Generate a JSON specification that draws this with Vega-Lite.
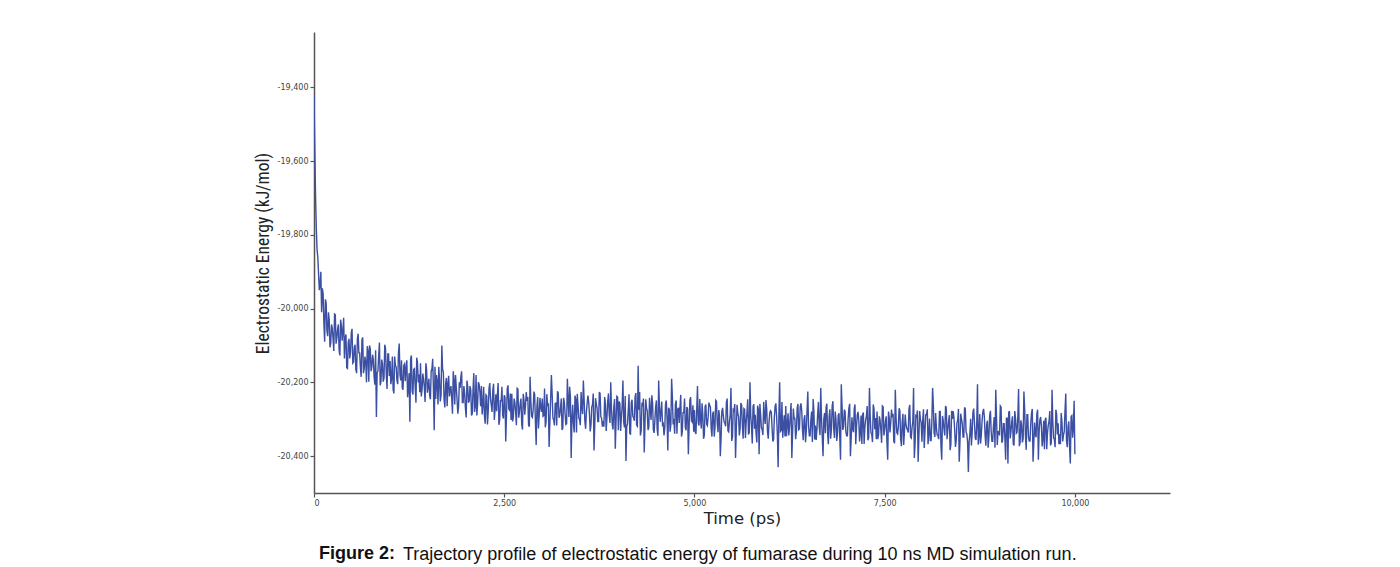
{
"$schema": "https://vega.github.io/schema/vega-lite/v6.json",
"width": 856, "height": 461,
"autosize": {"type": "none"},
"padding": {"left": 314, "top": 32, "right": 230, "bottom": 74},
"background": "white",
"config": {"view": {"stroke": null}, "locale": {"number": {"decimal": ".", "thousands": ",", "grouping": [3], "currency": ["$", ""], "minus": "-"}}},
"title": {
  "text": "Figure 2:",
  "subtitle": "Trajectory profile of electrostatic energy of fumarase during 10 ns MD simulation run.",
  "orient": "bottom", "anchor": "start", "frame": "group", "dx": 89, "offset": 18,
  "font": "Liberation Sans", "fontSize": 18, "fontWeight": "bold", "color": "#111",
  "subtitleFont": "Liberation Sans", "subtitleFontSize": 18, "subtitleFontWeight": "normal", "subtitleColor": "#111",
  "subtitlePadding": -17,
  "encoding": {"dx": {"value": 5}}
},
"data": {"values": [
{"t":0,"e":-19420},{"t":20,"e":-19690},{"t":40,"e":-19840},{"t":60,"e":-19905},{"t":80,"e":-19935},{"t":100,"e":-20010},{"t":120,"e":-19960},{"t":140,"e":-20090},{"t":160,"e":-19985},{"t":180,"e":-20075},
{"t":200,"e":-20030},{"t":220,"e":-20093},{"t":240,"e":-20053},{"t":260,"e":-20115},{"t":280,"e":-20017},{"t":300,"e":-20080},{"t":320,"e":-20043},{"t":340,"e":-20127},{"t":360,"e":-20047},{"t":380,"e":-20060},
{"t":400,"e":-20135},{"t":420,"e":-20070},{"t":440,"e":-20162},{"t":460,"e":-20082},{"t":480,"e":-20118},{"t":500,"e":-20055},{"t":520,"e":-20145},{"t":540,"e":-20098},{"t":560,"e":-20175},{"t":580,"e":-20068},
{"t":600,"e":-20120},{"t":620,"e":-20185},{"t":640,"e":-20078},{"t":660,"e":-20162},{"t":680,"e":-20145},{"t":700,"e":-20102},{"t":720,"e":-20198},{"t":740,"e":-20110},{"t":760,"e":-20158},{"t":780,"e":-20138},
{"t":800,"e":-20206},{"t":820,"e":-20294},{"t":840,"e":-20170},{"t":860,"e":-20092},{"t":880,"e":-20198},{"t":900,"e":-20150},{"t":920,"e":-20188},{"t":940,"e":-20108},{"t":960,"e":-20218},{"t":980,"e":-20123},
{"t":1000,"e":-20142},{"t":1020,"e":-20188},{"t":1040,"e":-20220},{"t":1060,"e":-20130},{"t":1080,"e":-20158},{"t":1100,"e":-20205},{"t":1120,"e":-20095},{"t":1140,"e":-20195},{"t":1160,"e":-20215},{"t":1180,"e":-20154},
{"t":1200,"e":-20197},{"t":1220,"e":-20140},{"t":1240,"e":-20217},{"t":1260,"e":-20307},{"t":1280,"e":-20127},{"t":1300,"e":-20233},{"t":1320,"e":-20163},{"t":1340,"e":-20255},{"t":1360,"e":-20147},{"t":1380,"e":-20179},
{"t":1400,"e":-20148},{"t":1420,"e":-20220},{"t":1440,"e":-20192},{"t":1460,"e":-20253},{"t":1480,"e":-20166},{"t":1500,"e":-20210},{"t":1520,"e":-20236},{"t":1540,"e":-20170},{"t":1560,"e":-20136},{"t":1580,"e":-20330},
{"t":1600,"e":-20245},{"t":1620,"e":-20198},{"t":1640,"e":-20158},{"t":1660,"e":-20252},{"t":1680,"e":-20100},{"t":1700,"e":-20172},{"t":1720,"e":-20268},{"t":1740,"e":-20188},{"t":1760,"e":-20204},{"t":1780,"e":-20238},
{"t":1800,"e":-20210},{"t":1820,"e":-20285},{"t":1840,"e":-20195},{"t":1860,"e":-20180},{"t":1880,"e":-20245},{"t":1900,"e":-20265},{"t":1920,"e":-20215},{"t":1940,"e":-20170},{"t":1960,"e":-20255},{"t":1980,"e":-20230},
{"t":2000,"e":-20295},{"t":2020,"e":-20210},{"t":2040,"e":-20250},{"t":2060,"e":-20220},{"t":2080,"e":-20285},{"t":2100,"e":-20175},{"t":2120,"e":-20265},{"t":2140,"e":-20290},{"t":2160,"e":-20200},{"t":2180,"e":-20225},
{"t":2200,"e":-20210},{"t":2220,"e":-20260},{"t":2240,"e":-20290},{"t":2260,"e":-20234},{"t":2280,"e":-20314},{"t":2300,"e":-20217},{"t":2320,"e":-20244},{"t":2340,"e":-20280},{"t":2360,"e":-20204},{"t":2380,"e":-20272},
{"t":2400,"e":-20278},{"t":2420,"e":-20202},{"t":2440,"e":-20302},{"t":2460,"e":-20250},{"t":2480,"e":-20290},{"t":2500,"e":-20235},{"t":2520,"e":-20360},{"t":2540,"e":-20216},{"t":2560,"e":-20272},{"t":2580,"e":-20230},
{"t":2600,"e":-20231},{"t":2620,"e":-20294},{"t":2640,"e":-20254},{"t":2660,"e":-20316},{"t":2680,"e":-20218},{"t":2700,"e":-20281},{"t":2720,"e":-20244},{"t":2740,"e":-20328},{"t":2760,"e":-20248},{"t":2780,"e":-20261},
{"t":2800,"e":-20250},{"t":2820,"e":-20315},{"t":2840,"e":-20185},{"t":2860,"e":-20292},{"t":2880,"e":-20275},{"t":2900,"e":-20232},{"t":2920,"e":-20370},{"t":2940,"e":-20240},{"t":2960,"e":-20288},{"t":2980,"e":-20268},
{"t":3000,"e":-20244},{"t":3020,"e":-20290},{"t":3040,"e":-20322},{"t":3060,"e":-20232},{"t":3080,"e":-20260},{"t":3100,"e":-20307},{"t":3120,"e":-20180},{"t":3140,"e":-20297},{"t":3160,"e":-20317},{"t":3180,"e":-20256},
{"t":3200,"e":-20224},{"t":3220,"e":-20296},{"t":3240,"e":-20268},{"t":3260,"e":-20329},{"t":3280,"e":-20242},{"t":3300,"e":-20286},{"t":3320,"e":-20312},{"t":3340,"e":-20246},{"t":3360,"e":-20212},{"t":3380,"e":-20405},
{"t":3400,"e":-20261},{"t":3420,"e":-20336},{"t":3440,"e":-20246},{"t":3460,"e":-20231},{"t":3480,"e":-20296},{"t":3500,"e":-20316},{"t":3520,"e":-20266},{"t":3540,"e":-20195},{"t":3560,"e":-20306},{"t":3580,"e":-20281},
{"t":3600,"e":-20236},{"t":3620,"e":-20286},{"t":3640,"e":-20316},{"t":3660,"e":-20260},{"t":3680,"e":-20385},{"t":3700,"e":-20243},{"t":3720,"e":-20270},{"t":3740,"e":-20306},{"t":3760,"e":-20230},{"t":3780,"e":-20298},
{"t":3800,"e":-20305},{"t":3820,"e":-20240},{"t":3840,"e":-20332},{"t":3860,"e":-20252},{"t":3880,"e":-20288},{"t":3900,"e":-20200},{"t":3920,"e":-20315},{"t":3940,"e":-20268},{"t":3960,"e":-20380},{"t":3980,"e":-20238},
{"t":4000,"e":-20330},{"t":4020,"e":-20257},{"t":4040,"e":-20294},{"t":4060,"e":-20195},{"t":4080,"e":-20322},{"t":4100,"e":-20413},{"t":4120,"e":-20312},{"t":4140,"e":-20232},{"t":4160,"e":-20342},{"t":4180,"e":-20247},
{"t":4200,"e":-20296},{"t":4220,"e":-20239},{"t":4240,"e":-20316},{"t":4260,"e":-20155},{"t":4280,"e":-20226},{"t":4300,"e":-20332},{"t":4320,"e":-20262},{"t":4340,"e":-20390},{"t":4360,"e":-20246},{"t":4380,"e":-20278},
{"t":4400,"e":-20322},{"t":4420,"e":-20275},{"t":4440,"e":-20235},{"t":4460,"e":-20329},{"t":4480,"e":-20303},{"t":4500,"e":-20249},{"t":4520,"e":-20345},{"t":4540,"e":-20265},{"t":4560,"e":-20281},{"t":4580,"e":-20315},
{"t":4600,"e":-20344},{"t":4620,"e":-20259},{"t":4640,"e":-20299},{"t":4660,"e":-20269},{"t":4680,"e":-20334},{"t":4700,"e":-20190},{"t":4720,"e":-20314},{"t":4740,"e":-20339},{"t":4760,"e":-20249},{"t":4780,"e":-20274},
{"t":4800,"e":-20310},{"t":4820,"e":-20234},{"t":4840,"e":-20334},{"t":4860,"e":-20282},{"t":4880,"e":-20322},{"t":4900,"e":-20267},{"t":4920,"e":-20395},{"t":4940,"e":-20248},{"t":4960,"e":-20304},{"t":4980,"e":-20262},
{"t":5000,"e":-20275},{"t":5020,"e":-20340},{"t":5040,"e":-20210},{"t":5060,"e":-20317},{"t":5080,"e":-20300},{"t":5100,"e":-20257},{"t":5120,"e":-20353},{"t":5140,"e":-20265},{"t":5160,"e":-20313},{"t":5180,"e":-20293},
{"t":5200,"e":-20262},{"t":5220,"e":-20325},{"t":5240,"e":-20285},{"t":5260,"e":-20347},{"t":5280,"e":-20249},{"t":5300,"e":-20312},{"t":5320,"e":-20275},{"t":5340,"e":-20400},{"t":5360,"e":-20279},{"t":5380,"e":-20292},
{"t":5400,"e":-20311},{"t":5420,"e":-20254},{"t":5440,"e":-20331},{"t":5460,"e":-20305},{"t":5480,"e":-20215},{"t":5500,"e":-20347},{"t":5520,"e":-20277},{"t":5540,"e":-20405},{"t":5560,"e":-20261},{"t":5580,"e":-20293},
{"t":5600,"e":-20326},{"t":5620,"e":-20261},{"t":5640,"e":-20353},{"t":5660,"e":-20273},{"t":5680,"e":-20309},{"t":5700,"e":-20246},{"t":5720,"e":-20336},{"t":5740,"e":-20289},{"t":5760,"e":-20366},{"t":5780,"e":-20259},
{"t":5800,"e":-20288},{"t":5820,"e":-20363},{"t":5840,"e":-20273},{"t":5860,"e":-20258},{"t":5880,"e":-20323},{"t":5900,"e":-20343},{"t":5920,"e":-20293},{"t":5940,"e":-20248},{"t":5960,"e":-20333},{"t":5980,"e":-20308},
{"t":6000,"e":-20277},{"t":6020,"e":-20323},{"t":6040,"e":-20355},{"t":6060,"e":-20265},{"t":6080,"e":-20293},{"t":6100,"e":-20430},{"t":6120,"e":-20200},{"t":6140,"e":-20330},{"t":6160,"e":-20350},{"t":6180,"e":-20289},
{"t":6200,"e":-20264},{"t":6220,"e":-20314},{"t":6240,"e":-20344},{"t":6260,"e":-20288},{"t":6280,"e":-20405},{"t":6300,"e":-20271},{"t":6320,"e":-20298},{"t":6340,"e":-20334},{"t":6360,"e":-20258},{"t":6380,"e":-20326},
{"t":6400,"e":-20257},{"t":6420,"e":-20329},{"t":6440,"e":-20301},{"t":6460,"e":-20362},{"t":6480,"e":-20275},{"t":6500,"e":-20319},{"t":6520,"e":-20345},{"t":6540,"e":-20279},{"t":6560,"e":-20245},{"t":6580,"e":-20355},
{"t":6600,"e":-20356},{"t":6620,"e":-20283},{"t":6640,"e":-20320},{"t":6660,"e":-20215},{"t":6680,"e":-20348},{"t":6700,"e":-20300},{"t":6720,"e":-20338},{"t":6740,"e":-20258},{"t":6760,"e":-20368},{"t":6780,"e":-20273},
{"t":6800,"e":-20327},{"t":6820,"e":-20251},{"t":6840,"e":-20351},{"t":6860,"e":-20299},{"t":6880,"e":-20339},{"t":6900,"e":-20284},{"t":6920,"e":-20410},{"t":6940,"e":-20265},{"t":6960,"e":-20321},{"t":6980,"e":-20279},
{"t":7000,"e":-20345},{"t":7020,"e":-20298},{"t":7040,"e":-20258},{"t":7060,"e":-20352},{"t":7080,"e":-20326},{"t":7100,"e":-20272},{"t":7120,"e":-20368},{"t":7140,"e":-20288},{"t":7160,"e":-20304},{"t":7180,"e":-20338},
{"t":7200,"e":-20367},{"t":7220,"e":-20282},{"t":7240,"e":-20322},{"t":7260,"e":-20292},{"t":7280,"e":-20357},{"t":7300,"e":-20215},{"t":7320,"e":-20337},{"t":7340,"e":-20362},{"t":7360,"e":-20272},{"t":7380,"e":-20297},
{"t":7400,"e":-20279},{"t":7420,"e":-20342},{"t":7440,"e":-20302},{"t":7460,"e":-20364},{"t":7480,"e":-20266},{"t":7500,"e":-20329},{"t":7520,"e":-20292},{"t":7540,"e":-20410},{"t":7560,"e":-20296},{"t":7580,"e":-20309},
{"t":7600,"e":-20295},{"t":7620,"e":-20360},{"t":7640,"e":-20220},{"t":7660,"e":-20337},{"t":7680,"e":-20320},{"t":7700,"e":-20277},{"t":7720,"e":-20373},{"t":7740,"e":-20285},{"t":7760,"e":-20333},{"t":7780,"e":-20313},
{"t":7800,"e":-20328},{"t":7820,"e":-20271},{"t":7840,"e":-20348},{"t":7860,"e":-20322},{"t":7880,"e":-20215},{"t":7900,"e":-20364},{"t":7920,"e":-20294},{"t":7940,"e":-20415},{"t":7960,"e":-20278},{"t":7980,"e":-20310},
{"t":8000,"e":-20303},{"t":8020,"e":-20378},{"t":8040,"e":-20288},{"t":8060,"e":-20273},{"t":8080,"e":-20338},{"t":8100,"e":-20358},{"t":8120,"e":-20308},{"t":8140,"e":-20263},{"t":8160,"e":-20348},{"t":8180,"e":-20323},
{"t":8200,"e":-20344},{"t":8220,"e":-20279},{"t":8240,"e":-20371},{"t":8260,"e":-20291},{"t":8280,"e":-20327},{"t":8300,"e":-20264},{"t":8320,"e":-20354},{"t":8340,"e":-20307},{"t":8360,"e":-20384},{"t":8380,"e":-20277},
{"t":8400,"e":-20278},{"t":8420,"e":-20328},{"t":8440,"e":-20358},{"t":8460,"e":-20302},{"t":8480,"e":-20415},{"t":8500,"e":-20285},{"t":8520,"e":-20312},{"t":8540,"e":-20348},{"t":8560,"e":-20272},{"t":8580,"e":-20340},
{"t":8600,"e":-20443},{"t":8620,"e":-20339},{"t":8640,"e":-20371},{"t":8660,"e":-20281},{"t":8680,"e":-20309},{"t":8700,"e":-20356},{"t":8720,"e":-20205},{"t":8740,"e":-20346},{"t":8760,"e":-20366},{"t":8780,"e":-20305},
{"t":8800,"e":-20272},{"t":8820,"e":-20344},{"t":8840,"e":-20316},{"t":8860,"e":-20377},{"t":8880,"e":-20290},{"t":8900,"e":-20334},{"t":8920,"e":-20360},{"t":8940,"e":-20294},{"t":8960,"e":-20220},{"t":8980,"e":-20370},
{"t":9000,"e":-20340},{"t":9020,"e":-20264},{"t":9040,"e":-20364},{"t":9060,"e":-20312},{"t":9080,"e":-20352},{"t":9100,"e":-20297},{"t":9120,"e":-20420},{"t":9140,"e":-20278},{"t":9160,"e":-20334},{"t":9180,"e":-20292},
{"t":9200,"e":-20371},{"t":9220,"e":-20298},{"t":9240,"e":-20335},{"t":9260,"e":-20218},{"t":9280,"e":-20363},{"t":9300,"e":-20315},{"t":9320,"e":-20353},{"t":9340,"e":-20273},{"t":9360,"e":-20383},{"t":9380,"e":-20288},
{"t":9400,"e":-20359},{"t":9420,"e":-20312},{"t":9440,"e":-20272},{"t":9460,"e":-20366},{"t":9480,"e":-20340},{"t":9500,"e":-20286},{"t":9520,"e":-20410},{"t":9540,"e":-20302},{"t":9560,"e":-20318},{"t":9580,"e":-20352},
{"t":9600,"e":-20381},{"t":9620,"e":-20296},{"t":9640,"e":-20336},{"t":9660,"e":-20306},{"t":9680,"e":-20371},{"t":9700,"e":-20220},{"t":9720,"e":-20351},{"t":9740,"e":-20376},{"t":9760,"e":-20286},{"t":9780,"e":-20311},
{"t":9800,"e":-20340},{"t":9820,"e":-20283},{"t":9840,"e":-20360},{"t":9860,"e":-20334},{"t":9880,"e":-20230},{"t":9900,"e":-20376},{"t":9920,"e":-20306},{"t":9940,"e":-20420},{"t":9960,"e":-20290},{"t":9980,"e":-20322},
{"t":10000,"e":-20395},
{"t":10,"e":-19560},{"t":30,"e":-19780},{"t":50,"e":-19860},{"t":70,"e":-19950},{"t":90,"e":-19900},{"t":110,"e":-19945},{"t":130,"e":-20040},{"t":150,"e":-19975},{"t":170,"e":-20060},{"t":190,"e":-20010},
{"t":210,"e":-20105},{"t":230,"e":-20043},{"t":250,"e":-20080},{"t":270,"e":-20015},{"t":290,"e":-20095},{"t":310,"e":-20057},{"t":330,"e":-20113},{"t":350,"e":-20030},{"t":370,"e":-20087},{"t":390,"e":-20025},
{"t":410,"e":-20080},{"t":430,"e":-20160},{"t":450,"e":-20092},{"t":470,"e":-20135},{"t":490,"e":-20065},{"t":510,"e":-20148},{"t":530,"e":-20105},{"t":550,"e":-20165},{"t":570,"e":-20082},{"t":590,"e":-20120},
{"t":610,"e":-20160},{"t":630,"e":-20085},{"t":650,"e":-20175},{"t":670,"e":-20130},{"t":690,"e":-20200},{"t":710,"e":-20115},{"t":730,"e":-20100},{"t":750,"e":-20170},{"t":770,"e":-20125},{"t":790,"e":-20185},
{"t":810,"e":-20113},{"t":830,"e":-20173},{"t":850,"e":-20128},{"t":870,"e":-20208},{"t":890,"e":-20138},{"t":910,"e":-20198},{"t":930,"e":-20098},{"t":950,"e":-20178},{"t":970,"e":-20123},{"t":990,"e":-20183},
{"t":1010,"e":-20205},{"t":1030,"e":-20130},{"t":1050,"e":-20230},{"t":1070,"e":-20155},{"t":1090,"e":-20195},{"t":1110,"e":-20120},{"t":1130,"e":-20180},{"t":1150,"e":-20140},{"t":1170,"e":-20220},{"t":1190,"e":-20150},
{"t":1210,"e":-20160},{"t":1230,"e":-20240},{"t":1250,"e":-20175},{"t":1270,"e":-20137},{"t":1290,"e":-20223},{"t":1310,"e":-20165},{"t":1330,"e":-20213},{"t":1350,"e":-20133},{"t":1370,"e":-20200},{"t":1390,"e":-20227},
{"t":1410,"e":-20238},{"t":1430,"e":-20176},{"t":1450,"e":-20213},{"t":1470,"e":-20148},{"t":1490,"e":-20228},{"t":1510,"e":-20190},{"t":1530,"e":-20246},{"t":1550,"e":-20163},{"t":1570,"e":-20220},{"t":1590,"e":-20158},
{"t":1610,"e":-20180},{"t":1630,"e":-20260},{"t":1650,"e":-20192},{"t":1670,"e":-20235},{"t":1690,"e":-20165},{"t":1710,"e":-20248},{"t":1730,"e":-20205},{"t":1750,"e":-20265},{"t":1770,"e":-20182},{"t":1790,"e":-20220},
{"t":1810,"e":-20245},{"t":1830,"e":-20170},{"t":1850,"e":-20260},{"t":1870,"e":-20215},{"t":1890,"e":-20285},{"t":1910,"e":-20200},{"t":1930,"e":-20185},{"t":1950,"e":-20255},{"t":1970,"e":-20210},{"t":1990,"e":-20270},
{"t":2010,"e":-20195},{"t":2030,"e":-20255},{"t":2050,"e":-20210},{"t":2070,"e":-20290},{"t":2090,"e":-20220},{"t":2110,"e":-20280},{"t":2130,"e":-20180},{"t":2150,"e":-20260},{"t":2170,"e":-20205},{"t":2190,"e":-20265},
{"t":2210,"e":-20287},{"t":2230,"e":-20212},{"t":2250,"e":-20312},{"t":2270,"e":-20237},{"t":2290,"e":-20277},{"t":2310,"e":-20202},{"t":2330,"e":-20262},{"t":2350,"e":-20222},{"t":2370,"e":-20302},{"t":2390,"e":-20232},
{"t":2410,"e":-20235},{"t":2430,"e":-20315},{"t":2450,"e":-20250},{"t":2470,"e":-20212},{"t":2490,"e":-20298},{"t":2510,"e":-20240},{"t":2530,"e":-20288},{"t":2550,"e":-20208},{"t":2570,"e":-20275},{"t":2590,"e":-20302},
{"t":2610,"e":-20306},{"t":2630,"e":-20244},{"t":2650,"e":-20281},{"t":2670,"e":-20216},{"t":2690,"e":-20296},{"t":2710,"e":-20258},{"t":2730,"e":-20314},{"t":2750,"e":-20231},{"t":2770,"e":-20288},{"t":2790,"e":-20226},
{"t":2810,"e":-20240},{"t":2830,"e":-20320},{"t":2850,"e":-20252},{"t":2870,"e":-20295},{"t":2890,"e":-20225},{"t":2910,"e":-20308},{"t":2930,"e":-20265},{"t":2950,"e":-20325},{"t":2970,"e":-20242},{"t":2990,"e":-20280},
{"t":3010,"e":-20292},{"t":3030,"e":-20217},{"t":3050,"e":-20307},{"t":3070,"e":-20262},{"t":3090,"e":-20375},{"t":3110,"e":-20247},{"t":3130,"e":-20232},{"t":3150,"e":-20302},{"t":3170,"e":-20257},{"t":3190,"e":-20317},
{"t":3210,"e":-20229},{"t":3230,"e":-20289},{"t":3250,"e":-20244},{"t":3270,"e":-20324},{"t":3290,"e":-20254},{"t":3310,"e":-20314},{"t":3330,"e":-20190},{"t":3350,"e":-20294},{"t":3370,"e":-20239},{"t":3390,"e":-20299},
{"t":3410,"e":-20311},{"t":3430,"e":-20236},{"t":3450,"e":-20336},{"t":3470,"e":-20261},{"t":3490,"e":-20301},{"t":3510,"e":-20226},{"t":3530,"e":-20286},{"t":3550,"e":-20246},{"t":3570,"e":-20326},{"t":3590,"e":-20256},
{"t":3610,"e":-20253},{"t":3630,"e":-20333},{"t":3650,"e":-20268},{"t":3670,"e":-20230},{"t":3690,"e":-20316},{"t":3710,"e":-20258},{"t":3730,"e":-20306},{"t":3750,"e":-20226},{"t":3770,"e":-20293},{"t":3790,"e":-20320},
{"t":3810,"e":-20320},{"t":3830,"e":-20258},{"t":3850,"e":-20295},{"t":3870,"e":-20230},{"t":3890,"e":-20310},{"t":3910,"e":-20272},{"t":3930,"e":-20328},{"t":3950,"e":-20245},{"t":3970,"e":-20302},{"t":3990,"e":-20240},
{"t":4010,"e":-20252},{"t":4030,"e":-20332},{"t":4050,"e":-20264},{"t":4070,"e":-20307},{"t":4090,"e":-20237},{"t":4110,"e":-20320},{"t":4130,"e":-20277},{"t":4150,"e":-20337},{"t":4170,"e":-20254},{"t":4190,"e":-20292},
{"t":4210,"e":-20304},{"t":4230,"e":-20229},{"t":4250,"e":-20319},{"t":4270,"e":-20274},{"t":4290,"e":-20344},{"t":4310,"e":-20259},{"t":4330,"e":-20244},{"t":4350,"e":-20314},{"t":4370,"e":-20269},{"t":4390,"e":-20329},
{"t":4410,"e":-20242},{"t":4430,"e":-20302},{"t":4450,"e":-20257},{"t":4470,"e":-20337},{"t":4490,"e":-20267},{"t":4510,"e":-20327},{"t":4530,"e":-20195},{"t":4550,"e":-20307},{"t":4570,"e":-20252},{"t":4590,"e":-20312},
{"t":4610,"e":-20324},{"t":4630,"e":-20249},{"t":4650,"e":-20385},{"t":4670,"e":-20274},{"t":4690,"e":-20314},{"t":4710,"e":-20239},{"t":4730,"e":-20299},{"t":4750,"e":-20259},{"t":4770,"e":-20339},{"t":4790,"e":-20269},
{"t":4810,"e":-20267},{"t":4830,"e":-20347},{"t":4850,"e":-20282},{"t":4870,"e":-20244},{"t":4890,"e":-20330},{"t":4910,"e":-20272},{"t":4930,"e":-20320},{"t":4950,"e":-20240},{"t":4970,"e":-20307},{"t":4990,"e":-20334},
{"t":5010,"e":-20335},{"t":5030,"e":-20273},{"t":5050,"e":-20310},{"t":5070,"e":-20245},{"t":5090,"e":-20325},{"t":5110,"e":-20287},{"t":5130,"e":-20343},{"t":5150,"e":-20260},{"t":5170,"e":-20317},{"t":5190,"e":-20255},
{"t":5210,"e":-20267},{"t":5230,"e":-20347},{"t":5250,"e":-20279},{"t":5270,"e":-20322},{"t":5290,"e":-20252},{"t":5310,"e":-20335},{"t":5330,"e":-20292},{"t":5350,"e":-20352},{"t":5370,"e":-20269},{"t":5390,"e":-20307},
{"t":5410,"e":-20319},{"t":5430,"e":-20244},{"t":5450,"e":-20334},{"t":5470,"e":-20289},{"t":5490,"e":-20359},{"t":5510,"e":-20274},{"t":5530,"e":-20259},{"t":5550,"e":-20329},{"t":5570,"e":-20284},{"t":5590,"e":-20344},
{"t":5610,"e":-20256},{"t":5630,"e":-20316},{"t":5650,"e":-20271},{"t":5670,"e":-20351},{"t":5690,"e":-20281},{"t":5710,"e":-20341},{"t":5730,"e":-20200},{"t":5750,"e":-20321},{"t":5770,"e":-20266},{"t":5790,"e":-20326},
{"t":5810,"e":-20338},{"t":5830,"e":-20263},{"t":5850,"e":-20395},{"t":5870,"e":-20288},{"t":5890,"e":-20328},{"t":5910,"e":-20253},{"t":5930,"e":-20313},{"t":5950,"e":-20273},{"t":5970,"e":-20353},{"t":5990,"e":-20283},
{"t":6010,"e":-20280},{"t":6030,"e":-20360},{"t":6050,"e":-20295},{"t":6070,"e":-20257},{"t":6090,"e":-20343},{"t":6110,"e":-20285},{"t":6130,"e":-20333},{"t":6150,"e":-20253},{"t":6170,"e":-20320},{"t":6190,"e":-20347},
{"t":6210,"e":-20346},{"t":6230,"e":-20284},{"t":6250,"e":-20321},{"t":6270,"e":-20256},{"t":6290,"e":-20336},{"t":6310,"e":-20298},{"t":6330,"e":-20354},{"t":6350,"e":-20271},{"t":6370,"e":-20328},{"t":6390,"e":-20266},
{"t":6410,"e":-20277},{"t":6430,"e":-20357},{"t":6450,"e":-20289},{"t":6470,"e":-20332},{"t":6490,"e":-20225},{"t":6510,"e":-20345},{"t":6530,"e":-20302},{"t":6550,"e":-20362},{"t":6570,"e":-20279},{"t":6590,"e":-20317},
{"t":6610,"e":-20328},{"t":6630,"e":-20253},{"t":6650,"e":-20343},{"t":6670,"e":-20298},{"t":6690,"e":-20400},{"t":6710,"e":-20283},{"t":6730,"e":-20268},{"t":6750,"e":-20338},{"t":6770,"e":-20293},{"t":6790,"e":-20353},
{"t":6810,"e":-20264},{"t":6830,"e":-20324},{"t":6850,"e":-20279},{"t":6870,"e":-20359},{"t":6890,"e":-20289},{"t":6910,"e":-20349},{"t":6930,"e":-20205},{"t":6950,"e":-20329},{"t":6970,"e":-20274},{"t":6990,"e":-20334},
{"t":7010,"e":-20345},{"t":7030,"e":-20270},{"t":7050,"e":-20400},{"t":7070,"e":-20295},{"t":7090,"e":-20335},{"t":7110,"e":-20260},{"t":7130,"e":-20320},{"t":7150,"e":-20280},{"t":7170,"e":-20360},{"t":7190,"e":-20290},
{"t":7210,"e":-20287},{"t":7230,"e":-20367},{"t":7250,"e":-20302},{"t":7270,"e":-20264},{"t":7290,"e":-20350},{"t":7310,"e":-20292},{"t":7330,"e":-20340},{"t":7350,"e":-20260},{"t":7370,"e":-20327},{"t":7390,"e":-20354},
{"t":7410,"e":-20354},{"t":7430,"e":-20292},{"t":7450,"e":-20329},{"t":7470,"e":-20264},{"t":7490,"e":-20344},{"t":7510,"e":-20306},{"t":7530,"e":-20362},{"t":7550,"e":-20279},{"t":7570,"e":-20336},{"t":7590,"e":-20274},
{"t":7610,"e":-20285},{"t":7630,"e":-20365},{"t":7650,"e":-20297},{"t":7670,"e":-20340},{"t":7690,"e":-20270},{"t":7710,"e":-20353},{"t":7730,"e":-20310},{"t":7750,"e":-20370},{"t":7770,"e":-20287},{"t":7790,"e":-20325},
{"t":7810,"e":-20336},{"t":7830,"e":-20261},{"t":7850,"e":-20351},{"t":7870,"e":-20306},{"t":7890,"e":-20405},{"t":7910,"e":-20291},{"t":7930,"e":-20276},{"t":7950,"e":-20346},{"t":7970,"e":-20301},{"t":7990,"e":-20361},
{"t":8010,"e":-20273},{"t":8030,"e":-20333},{"t":8050,"e":-20288},{"t":8070,"e":-20368},{"t":8090,"e":-20298},{"t":8110,"e":-20358},{"t":8130,"e":-20215},{"t":8150,"e":-20338},{"t":8170,"e":-20283},{"t":8190,"e":-20343},
{"t":8210,"e":-20354},{"t":8230,"e":-20279},{"t":8250,"e":-20410},{"t":8270,"e":-20304},{"t":8290,"e":-20344},{"t":8310,"e":-20269},{"t":8330,"e":-20329},{"t":8350,"e":-20289},{"t":8370,"e":-20369},{"t":8390,"e":-20299},
{"t":8410,"e":-20295},{"t":8430,"e":-20375},{"t":8450,"e":-20310},{"t":8470,"e":-20272},{"t":8490,"e":-20358},{"t":8510,"e":-20300},{"t":8530,"e":-20348},{"t":8550,"e":-20268},{"t":8570,"e":-20335},{"t":8590,"e":-20362},
{"t":8610,"e":-20361},{"t":8630,"e":-20299},{"t":8650,"e":-20336},{"t":8670,"e":-20271},{"t":8690,"e":-20351},{"t":8710,"e":-20313},{"t":8730,"e":-20369},{"t":8750,"e":-20286},{"t":8770,"e":-20343},{"t":8790,"e":-20281},
{"t":8810,"e":-20292},{"t":8830,"e":-20372},{"t":8850,"e":-20304},{"t":8870,"e":-20347},{"t":8890,"e":-20277},{"t":8910,"e":-20360},{"t":8930,"e":-20317},{"t":8950,"e":-20377},{"t":8970,"e":-20294},{"t":8990,"e":-20332},
{"t":9010,"e":-20342},{"t":9030,"e":-20267},{"t":9050,"e":-20357},{"t":9070,"e":-20312},{"t":9090,"e":-20410},{"t":9110,"e":-20297},{"t":9130,"e":-20282},{"t":9150,"e":-20352},{"t":9170,"e":-20307},{"t":9190,"e":-20367},
{"t":9210,"e":-20278},{"t":9230,"e":-20338},{"t":9250,"e":-20293},{"t":9270,"e":-20373},{"t":9290,"e":-20303},{"t":9310,"e":-20363},{"t":9330,"e":-20225},{"t":9350,"e":-20343},{"t":9370,"e":-20288},{"t":9390,"e":-20348},
{"t":9410,"e":-20359},{"t":9430,"e":-20284},{"t":9450,"e":-20415},{"t":9470,"e":-20309},{"t":9490,"e":-20349},{"t":9510,"e":-20274},{"t":9530,"e":-20334},{"t":9550,"e":-20294},{"t":9570,"e":-20374},{"t":9590,"e":-20304},
{"t":9610,"e":-20301},{"t":9630,"e":-20381},{"t":9650,"e":-20316},{"t":9670,"e":-20278},{"t":9690,"e":-20364},{"t":9710,"e":-20306},{"t":9730,"e":-20354},{"t":9750,"e":-20274},{"t":9770,"e":-20341},{"t":9790,"e":-20368},
{"t":9810,"e":-20368},{"t":9830,"e":-20306},{"t":9850,"e":-20343},{"t":9870,"e":-20278},{"t":9890,"e":-20358},{"t":9910,"e":-20320},{"t":9930,"e":-20376},{"t":9950,"e":-20293},{"t":9970,"e":-20350},{"t":9990,"e":-20250}
]},
"mark": {"type": "line", "color": "#3b4fa3", "strokeWidth": 1.4, "clip": true},
"encoding": {
  "x": {"field": "t", "type": "quantitative",
    "scale": {"domain": [0, 11250], "nice": false, "zero": false},
    "axis": {"values": [0, 2500, 5000, 7500, 10000], "format": ",d", "title": "Time (ps)", "grid": false,
      "domainColor": "#555", "domainWidth": 1.5, "tickColor": "#555", "tickWidth": 1.2, "tickSize": 4,
      "labelFont": "DejaVu Sans", "labelFontSize": 8, "labelColor": "#444", "labelPadding": 2,
      "titleFont": "DejaVu Sans", "titleFontSize": 16.5, "titleFontWeight": "normal", "titleColor": "#222", "titlePadding": 3}},
  "y": {"field": "e", "type": "quantitative",
    "scale": {"domain": [-20500, -19250], "nice": false, "zero": false},
    "axis": {"values": [-20400, -20200, -20000, -19800, -19600, -19400], "format": ",d", "title": "Electrostatic Energy (kJ/mol)", "grid": false,
      "domainColor": "#555", "domainWidth": 1.5, "tickColor": "#555", "tickWidth": 1.2, "tickSize": 4,
      "labelFont": "DejaVu Sans", "labelFontSize": 8, "labelColor": "#444", "labelPadding": 2,
      "titleFont": "Liberation Sans Narrow, Roboto Condensed, Liberation Sans", "titleFontSize": 17.5, "titleFontWeight": "normal", "titleColor": "#222", "titlePadding": 5, "titleY": 221}}
}
}
